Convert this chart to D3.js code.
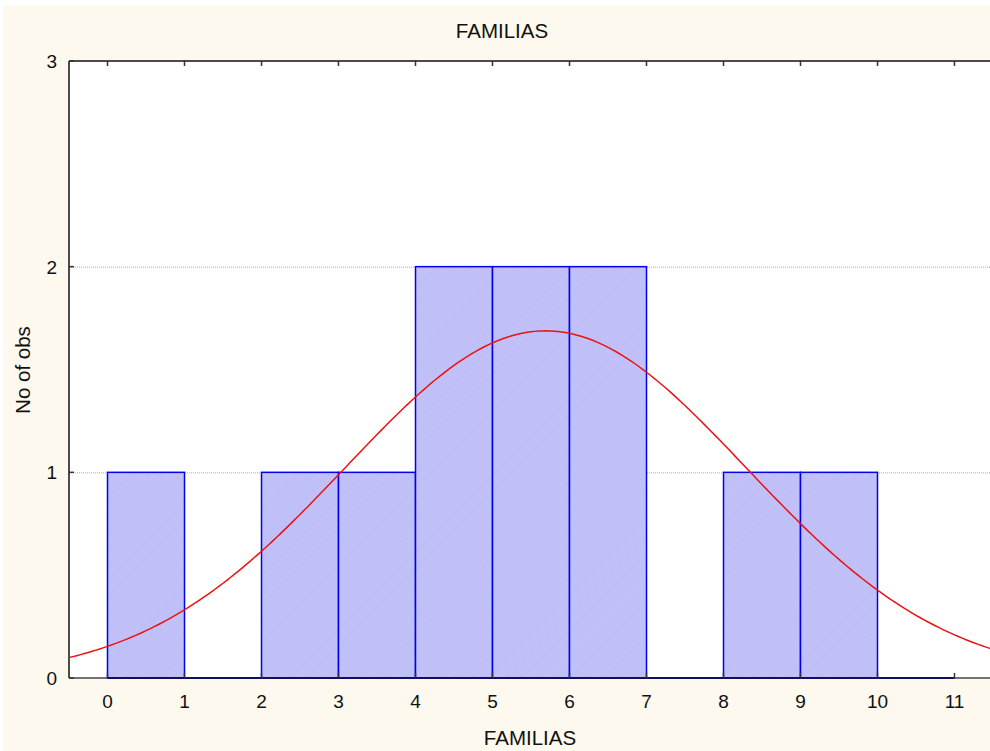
<!DOCTYPE html>
<html>
<head>
<meta charset="utf-8">
<script src="https://cdn.jsdelivr.net/npm/d3@7"></script>
<style>
  body { margin: 0; background: #fff; }
  text { font-family: "Liberation Sans", Arial, sans-serif; fill: #111; }
</style>
</head>
<body>
<div id="chart"></div>
<script>
// histogram bins (lower edge) and counts
const binStarts = [0, 1, 2, 3, 4, 5, 6, 7, 8, 9, 10];
const counts = [1, 0, 1, 1, 2, 2, 2, 0, 1, 1, 0];
const xTicks = [0, 1, 2, 3, 4, 5, 6, 7, 8, 9, 10, 11];
const yTicks = [0, 1, 2, 3];
// fitted normal curve parameters
const fitMean = 5.69;
const fitSd = 2.6;
const binWidth = 1;

const width = 990;
const height = 751;
const margin = { left: 69, top: 61, right: -3, bottom: 73 };

const svg = d3.select('#chart')
  .append('svg')
  .attr('width', width)
  .attr('height', height);

// cream background
svg.append('rect')
  .attr('x', 3).attr('y', 5)
  .attr('width', width - 3).attr('height', height - 5)
  .attr('fill', '#fdf9ee');

const x = d3.scaleLinear()
  .domain([-0.5, 11.5])
  .range([margin.left, width - margin.right]);

const y = d3.scaleLinear()
  .domain([0, 3])
  .range([height - margin.bottom, margin.top]);

// hatch pattern for bars
const defs = svg.append('defs');
const pat = defs.append('pattern')
  .attr('id', 'hatch')
  .attr('patternUnits', 'userSpaceOnUse')
  .attr('width', 2).attr('height', 2)
  .attr('patternTransform', 'rotate(45)');
pat.append('rect').attr('width', 2).attr('height', 2).attr('fill', '#c8c8fc');
pat.append('rect').attr('width', 1).attr('height', 2).attr('fill', '#b8b8f4');

defs.append('clipPath').attr('id', 'plotclip')
  .append('rect')
  .attr('x', margin.left).attr('y', margin.top)
  .attr('width', x.range()[1] - margin.left)
  .attr('height', y(0) - margin.top);

// plot area
svg.append('rect')
  .attr('x', margin.left).attr('y', margin.top)
  .attr('width', x.range()[1] - margin.left)
  .attr('height', y(0) - margin.top)
  .attr('fill', '#fff');

// grid lines
svg.append('g')
  .selectAll('line')
  .data(yTicks.filter(d => d > 0 && d < 3))
  .enter()
  .append('line')
  .attr('x1', margin.left).attr('x2', x.range()[1])
  .attr('y1', d => y(d) + 0.5).attr('y2', d => y(d) + 0.5)
  .attr('stroke', '#aaa')
  .attr('stroke-dasharray', '1,1');

const bins = binStarts.map((b, i) => ({ x0: b, x1: b + binWidth, n: counts[i] }));

// axes frame (left, top, bottom)
const frame = svg.append('g').attr('stroke', '#111').attr('stroke-width', 1.5).attr('fill', 'none');
frame.append('line')
  .attr('x1', margin.left).attr('x2', margin.left)
  .attr('y1', margin.top).attr('y2', y(0));
frame.append('line')
  .attr('x1', margin.left).attr('x2', x.range()[1])
  .attr('y1', margin.top).attr('y2', margin.top);
frame.append('line')
  .attr('x1', margin.left).attr('x2', x.range()[1])
  .attr('y1', y(0)).attr('y2', y(0))
  .attr('stroke', '#444');

// bars
svg.append('g')
  .selectAll('rect')
  .data(bins)
  .enter()
  .append('rect')
  .attr('x', d => x(d.x0))
  .attr('y', d => y(d.n))
  .attr('width', d => x(d.x1) - x(d.x0))
  .attr('height', d => y(0) - y(d.n))
  .attr('fill', 'url(#hatch)')
  .attr('stroke', '#0000f0')
  .attr('stroke-width', 1.5);

// zero-count bins show as a dark baseline
svg.append('g')
  .selectAll('line')
  .data(bins)
  .enter()
  .append('line')
  .attr('x1', d => x(d.x0)).attr('x2', d => x(d.x1))
  .attr('y1', y(0)).attr('y2', y(0))
  .attr('stroke', '#10105a')
  .attr('stroke-width', 2);

// normal fit curve
const total = d3.sum(counts);
const expected = v => total * binWidth * Math.exp(-0.5 * Math.pow((v - fitMean) / fitSd, 2)) / (fitSd * Math.sqrt(2 * Math.PI));
const curveXs = d3.range(x.domain()[0], x.domain()[1] + 0.001, 0.05);
const line = d3.line()
  .x(d => x(d))
  .y(d => y(expected(d)));
svg.append('path')
  .datum(curveXs)
  .attr('clip-path', 'url(#plotclip)')
  .attr('d', line)
  .attr('fill', 'none')
  .attr('stroke', '#ee1111')
  .attr('stroke-width', 1.5);

// tick marks
const ticks = svg.append('g').attr('stroke', '#333').attr('stroke-width', 1.5);
ticks.selectAll('.xb')
  .data(xTicks)
  .enter()
  .append('line')
  .attr('x1', d => x(d)).attr('x2', d => x(d))
  .attr('y1', y(0)).attr('y2', y(0) - 5);
ticks.selectAll('.xt')
  .data(xTicks)
  .enter()
  .append('line')
  .attr('x1', d => x(d)).attr('x2', d => x(d))
  .attr('y1', margin.top).attr('y2', margin.top + 5);
ticks.selectAll('.yl')
  .data(yTicks)
  .enter()
  .append('line')
  .attr('x1', margin.left).attr('x2', margin.left + 5)
  .attr('y1', d => y(d)).attr('y2', d => y(d));

// tick labels
svg.append('g')
  .selectAll('text')
  .data(xTicks)
  .enter()
  .append('text')
  .attr('x', d => x(d))
  .attr('y', y(0) + 30)
  .attr('text-anchor', 'middle')
  .attr('font-size', 19)
  .text(d => d);

svg.append('g')
  .selectAll('text')
  .data(yTicks)
  .enter()
  .append('text')
  .attr('x', 57)
  .attr('y', d => y(d) + 7)
  .attr('text-anchor', 'end')
  .attr('font-size', 19)
  .text(d => d);

// titles
svg.append('text')
  .attr('x', 502).attr('y', 38)
  .attr('text-anchor', 'middle')
  .attr('font-size', 20.5)
  .text('FAMILIAS');

svg.append('text')
  .attr('x', 530).attr('y', 745)
  .attr('text-anchor', 'middle')
  .attr('font-size', 20.5)
  .text('FAMILIAS');

svg.append('text')
  .attr('transform', 'translate(30,370) rotate(-90)')
  .attr('text-anchor', 'middle')
  .attr('font-size', 20.5)
  .text('No of obs');
</script>
</body>
</html>
